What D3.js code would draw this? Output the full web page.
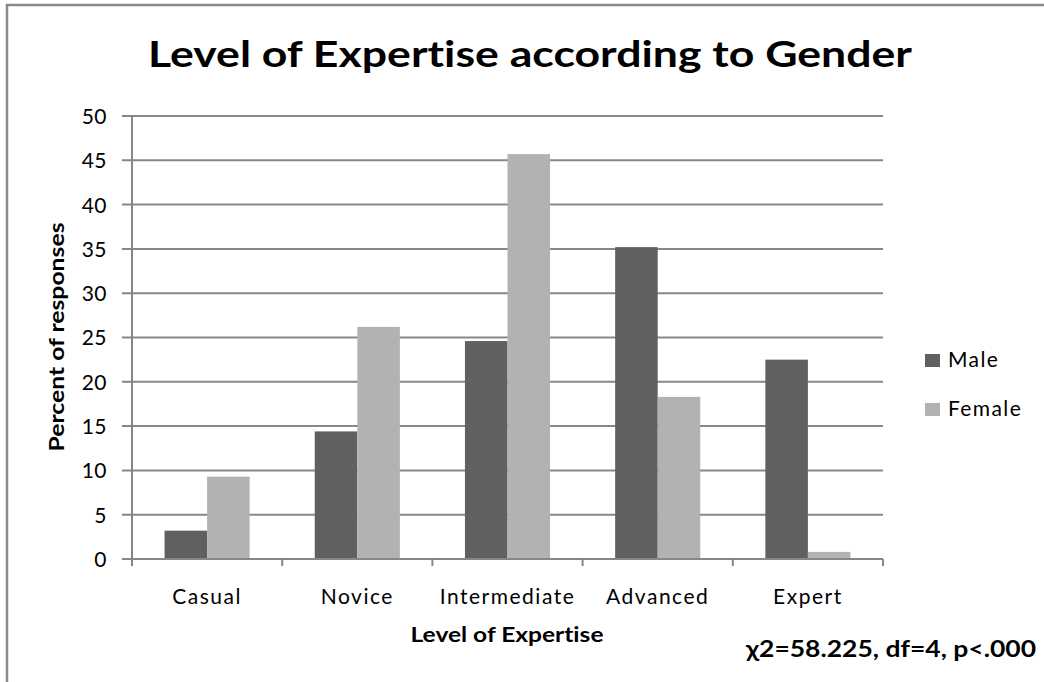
<!DOCTYPE html>
<html>
<head>
<meta charset="utf-8">
<script src="https://cdn.jsdelivr.net/npm/d3@7"></script>
<style>
  html, body { margin: 0; padding: 0; background: #fff; }
  svg { display: block; }
  text { font-family: Lato, "Open Sans", sans-serif; fill: #000; font-variant-ligatures: none; }
</style>
</head>
<body>
<svg id="chart" width="1044" height="682"></svg>
<script>
// Expertise levels and percent of responses per gender
const categories = ["Casual", "Novice", "Intermediate", "Advanced", "Expert"];
const seriesNames = ["Male", "Female"];
const maleValues = [3.2, 14.4, 24.6, 35.2, 22.5];
const femaleValues = [9.3, 26.2, 45.7, 18.3, 0.8];
const yTicks = [0, 5, 10, 15, 20, 25, 30, 35, 40, 45, 50];

const titleText = "Level of Expertise according to Gender";
const xTitle = "Level of Expertise";
const yTitle = "Percent of responses";
const statText = "\u03C72=58.225, df=4, p<.000";

const colors = { Male: "#606060", Female: "#b2b2b2" };
const gridColor = "#878787";

const svg = d3.select("#chart");
const W = 1044, H = 682;

// Frame lines along the top and left edge
svg.append("line").attr("x1", 6).attr("x2", W).attr("y1", 5).attr("y2", 5)
  .attr("stroke", "#8a8a8a").attr("stroke-width", 2.5);
svg.append("line").attr("x1", 7).attr("x2", 7).attr("y1", 4).attr("y2", H)
  .attr("stroke", "#8a8a8a").attr("stroke-width", 2.5);

const plot = { left: 132, right: 883, top: 116, bottom: 559 };

const x0 = d3.scaleBand().domain(categories).range([plot.left, plot.right]).paddingInner(0).paddingOuter(0);
const x1 = d3.scaleBand().domain(seriesNames).range([0, x0.bandwidth()]).paddingOuter(0.765).paddingInner(0);
const y = d3.scaleLinear().domain([0, 50]).range([plot.bottom, plot.top]);

// Horizontal gridlines with left ticks
const grid = svg.append("g");
grid.selectAll("line").data(yTicks).join("line")
  .attr("x1", plot.left - 10).attr("x2", plot.right)
  .attr("y1", d => y(d)).attr("y2", d => y(d))
  .attr("stroke", gridColor).attr("stroke-width", 2);

// Y tick labels
svg.append("g").selectAll("text").data(yTicks).join("text")
  .attr("x", plot.left - 25).attr("y", d => y(d)).attr("dy", "0.38em")
  .attr("text-anchor", "end").attr("font-size", 21).attr("letter-spacing", 0.5)
  .text(d => d);

// Bars
const rows = categories.map((c, i) => ({ cat: c, Male: maleValues[i], Female: femaleValues[i] }));
const groups = svg.append("g").selectAll("g").data(rows).join("g")
  .attr("transform", d => `translate(${x0(d.cat)},0)`);
groups.selectAll("rect").data(d => seriesNames.map(s => ({ s, v: d[s] }))).join("rect")
  .attr("x", d => x1(d.s)).attr("width", x1.bandwidth())
  .attr("y", d => y(d.v)).attr("height", d => y(0) - y(d.v))
  .attr("fill", d => colors[d.s]);

// Axis lines
svg.append("line").attr("x1", plot.left - 10).attr("x2", plot.right)
  .attr("y1", plot.bottom).attr("y2", plot.bottom)
  .attr("stroke", gridColor).attr("stroke-width", 2);
svg.append("line").attr("x1", plot.left).attr("x2", plot.left)
  .attr("y1", plot.top).attr("y2", plot.bottom + 7)
  .attr("stroke", gridColor).attr("stroke-width", 2);

// Category boundary ticks
const bounds = categories.map(c => x0(c) + x0.bandwidth());
svg.append("g").selectAll("line").data(bounds).join("line")
  .attr("x1", d => d).attr("x2", d => d)
  .attr("y1", plot.bottom).attr("y2", plot.bottom + 7)
  .attr("stroke", gridColor).attr("stroke-width", 2);

// Category labels
svg.append("g").selectAll("text").data(categories).join("text")
  .attr("x", d => x0(d) + x0.bandwidth() / 2).attr("y", 604)
  .attr("text-anchor", "middle").attr("font-size", 21).attr("letter-spacing", 1.5)
  .text(d => d);

// Title
svg.append("text").attr("x", 530).attr("y", 67)
  .attr("text-anchor", "middle").attr("font-size", 36).attr("font-weight", 700)
  .attr("textLength", 764).attr("lengthAdjust", "spacingAndGlyphs")
  .text(titleText);

// Axis titles
svg.append("text").attr("x", 507).attr("y", 642)
  .attr("text-anchor", "middle").attr("font-size", 20).attr("font-weight", 700)
  .attr("textLength", 193).attr("lengthAdjust", "spacingAndGlyphs")
  .text(xTitle);
svg.append("text").attr("transform", "translate(64,337) rotate(-90)")
  .attr("text-anchor", "middle").attr("font-size", 20).attr("font-weight", 700)
  .attr("textLength", 229).attr("lengthAdjust", "spacingAndGlyphs")
  .text(yTitle);

// Legend
const legend = svg.append("g").selectAll("g").data(seriesNames).join("g")
  .attr("transform", (d, i) => `translate(925,${354 + i * 49})`);
legend.append("rect").attr("width", 15).attr("height", 13).attr("fill", d => colors[d]);
legend.append("text").attr("x", 23).attr("y", 13).attr("font-size", 21)
  .attr("letter-spacing", 1.4).text(d => d);

// Test statistic
svg.append("text").attr("x", 1036).attr("y", 657)
  .attr("text-anchor", "end").attr("font-size", 23).attr("font-weight", 700)
  .attr("textLength", 290).attr("lengthAdjust", "spacingAndGlyphs")
  .text(statText);
</script>
</body>
</html>
